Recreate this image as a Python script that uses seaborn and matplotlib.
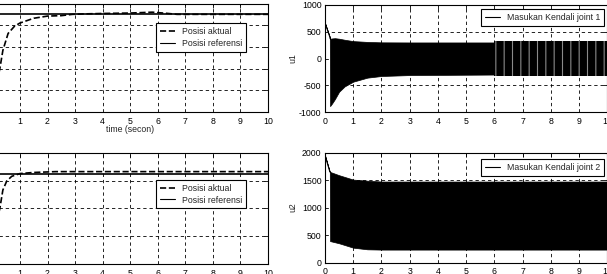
import numpy as np
import pandas as pd
import matplotlib
matplotlib.use("Agg")
import matplotlib.pyplot as plt
import seaborn as sns
from matplotlib.lines import Line2D

# ---------------- data ----------------
t_pos1 = [0, 0.15, 0.27, 0.38, 0.57, 0.8, 1.0, 1.5, 2.0, 2.5, 2.9, 3.3, 4.0, 5.0, 5.8, 6.3, 6.7, 10]
pos1_actual = [0.3, 1.3, 2.0, 2.84, 3.62, 3.95, 4.1, 4.32, 4.42, 4.44, 4.5, 4.52, 4.54, 4.56, 4.6, 4.55, 4.5, 4.5]
pos1_ref = 4.5

t_pos2 = [0, 0.15, 0.27, 0.38, 0.52, 0.7, 1.0, 1.5, 2.3, 10]
pos2_actual = [0.5, 1.5, 2.0, 2.66, 2.98, 3.15, 3.25, 3.29, 3.32, 3.32]
pos2_ref = 3.25

t_u1 = [0, 0.17, 0.18, 0.25, 0.35, 0.5, 0.7, 1.0, 1.5, 2.0, 3.0, 6.0]
u1_upper = [663, 400, 370, 375, 380, 370, 350, 325, 310, 302, 300, 300]
u1_lower = [663, 400, -890, -840, -760, -620, -520, -433, -358, -327, -310, -300]
t_u1_late = [6.0, 10.0]
u1_late_upper = [320, 320]
u1_late_lower = [-335, -335]

t_u2 = [0, 0.17, 0.18, 0.5, 1.0, 1.5, 2.0, 10]
u2_upper = [1950, 1650, 1650, 1590, 1510, 1490, 1475, 1475]
u2_lower = [1950, 1650, 390, 350, 270, 240, 235, 235]

x_ticks = [0, 1, 2, 3, 4, 5, 6, 7, 8, 9, 10]

# ---------------- style ----------------
FS = 6.3
sns.set_theme(style="white")
plt.rcParams['font.family'] = ['Liberation Sans Narrow', 'Liberation Sans', 'DejaVu Sans']
plt.rcParams['font.size'] = FS
plt.rcParams['hatch.linewidth'] = 0.8
plt.rcParams['axes.unicode_minus'] = False

W, H = 607, 274
fig = plt.figure(figsize=(W / 100, H / 100), dpi=100)


def add_ax(left, top, right, bottom):
    return fig.add_axes([left / W, 1 - bottom / H, (right - left) / W, (bottom - top) / H])


def style(ax, ylim, yticks):
    ax.set_xlim(0, 10)
    ax.set_ylim(*ylim)
    ax.set_xticks(x_ticks)
    ax.set_yticks(yticks)
    ax.grid(True, color='black', linestyle=(0, (4, 3.5)), linewidth=0.6)
    ax.set_axisbelow(False)
    for s in ax.spines.values():
        s.set_color('black')
        s.set_linewidth(0.8)
        s.set_visible(True)
    ax.tick_params(direction='in', length=3, width=0.6, top=True, right=True,
                   labelsize=FS, pad=2.5, colors='black')
    ax.tick_params(axis='x', pad=3.5)


def legend(ax, handles, labels, loc, anchor):
    leg = ax.legend(handles, labels, loc=loc, bbox_to_anchor=anchor, fontsize=FS,
                    frameon=True, fancybox=False, framealpha=1, edgecolor='black',
                    handlelength=1.7, borderpad=0.45, labelspacing=0.3,
                    handletextpad=0.8, borderaxespad=0)
    leg.get_frame().set_linewidth(0.8)


pos_handles = [Line2D([], [], color='black', ls='--', lw=1.2), Line2D([], [], color='black', lw=0.8)]
pos_labels = ['Posisi aktual', 'Posisi referensi']

# top-left
ax1 = add_ax(-7.6, 3.5, 268, 112)
df1 = pd.DataFrame({'t': t_pos1, 'aktual': pos1_actual})
ax1.axhline(pos1_ref, color='black', linewidth=1.2, zorder=3)
sns.lineplot(data=df1, x='t', y='aktual', ax=ax1, color='black', linestyle='--', linewidth=1.2, zorder=4)
style(ax1, (0, 5), [0, 1, 2, 3, 4, 5])
ax1.set_xlabel('time (secon)', fontsize=FS)
ax1.xaxis.set_label_coords(0.5, -0.12)
ax1.set_ylabel('')
legend(ax1, pos_handles, pos_labels, 'upper left', (0.594, 0.817))

# bottom-left
ax3 = add_ax(-7.6, 152.7, 268, 264)
df3 = pd.DataFrame({'t': t_pos2, 'aktual': pos2_actual})
ax3.axhline(pos2_ref, color='black', linewidth=1.2, zorder=3)
sns.lineplot(data=df3, x='t', y='aktual', ax=ax3, color='black', linestyle='--', linewidth=1.2, zorder=4)
style(ax3, (0, 4), [0, 1, 2, 3, 4])
ax3.set_xlabel('time (secon)', fontsize=FS)
ax3.xaxis.set_label_coords(0.5, -0.12)
ax3.set_ylabel('')
legend(ax3, pos_handles, pos_labels, 'upper left', (0.594, 0.755))

# top-right
ax2 = add_ax(325, 5, 607.5, 112)
ax2.fill_between(t_u1, u1_lower, u1_upper, color='black', linewidth=0.5, zorder=3)
ax2.fill_between(t_u1_late, u1_late_lower, u1_late_upper, facecolor='black',
                 edgecolor='#8a8a8a', hatch='||', linewidth=0, zorder=3)
sns.lineplot(x=t_u1[:3], y=u1_upper[:3], ax=ax2, color='black', linewidth=0.7, zorder=4)
style(ax2, (-1000, 1000), [-1000, -500, 0, 500, 1000])
ax2.set_ylabel('u1', fontsize=FS)
ax2.yaxis.set_label_coords(-0.098, 0.5)
ax2.set_xlabel('')
legend(ax2, [Line2D([], [], color='black', lw=0.8)], ['Masukan Kendali joint 1'],
       'upper right', (0.988, 0.963))

# bottom-right
ax4 = add_ax(325, 152.7, 607.5, 262.5)
ax4.fill_between(t_u2, u2_lower, u2_upper, color='black', linewidth=0.5, zorder=3)
sns.lineplot(x=t_u2[:3], y=u2_upper[:3], ax=ax4, color='black', linewidth=0.7, zorder=4)
style(ax4, (0, 2000), [0, 500, 1000, 1500, 2000])
ax4.set_ylabel('u2', fontsize=FS)
ax4.yaxis.set_label_coords(-0.098, 0.5)
ax4.set_xlabel('')
legend(ax4, [Line2D([], [], color='black', lw=0.8)], ['Masukan Kendali joint 2'],
       'upper right', (0.988, 0.943))

fig.savefig('out.png', dpi=100)
